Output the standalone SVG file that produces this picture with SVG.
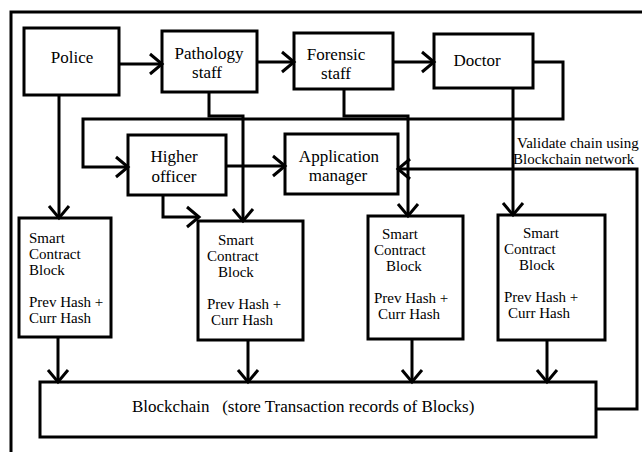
<svg xmlns="http://www.w3.org/2000/svg" width="642" height="452" viewBox="0 0 642 452" font-family="Liberation Serif, Tinos, Noto Serif, DejaVu Serif, Times New Roman, serif">
<defs>
<marker id="ah" markerUnits="userSpaceOnUse" markerWidth="18" markerHeight="26" refX="15" refY="12" orient="auto">
<path d="M3,2 L15,12 L3,22" fill="none" stroke="#000" stroke-width="3"/>
</marker>
<style>
.box{fill:#fff;stroke:#000;stroke-width:3}
.ln{fill:none;stroke:#000;stroke-width:3}
.arr{fill:none;stroke:#000;stroke-width:3;marker-end:url(#ah)}
.t{font-size:17px;fill:#000}
.c{text-anchor:middle}
.s{font-size:15px;fill:#000}
</style>
</defs>
<rect width="642" height="452" fill="#fff"/>
<path class="ln" d="M11,452 V12 H642"/>
<g id="police"><rect class="box" x="24" y="28" width="95" height="67"/><text class="t c" x="72" y="63">Police</text></g>
<g id="pathology"><rect class="box" x="162" y="31" width="95" height="61"/><text class="t c" x="209" y="59">Pathology</text><text class="t c" x="207" y="78">staff</text></g>
<g id="forensic"><rect class="box" x="294" y="33" width="99" height="56"/><text class="t c" x="336" y="60">Forensic</text><text class="t c" x="336" y="79">staff</text></g>
<g id="doctor"><rect class="box" x="434" y="34" width="99" height="54"/><text class="t c" x="477" y="66">Doctor</text></g>
<g id="higher"><rect class="box" x="128" y="135" width="98" height="60"/><text class="t c" x="174" y="162">Higher</text><text class="t c" x="174" y="182">officer</text></g>
<g id="appmgr"><rect class="box" x="285" y="134" width="113" height="60"/><text class="t c" x="339" y="162">Application</text><text class="t c" x="338" y="181">manager</text></g>
<g id="block1"><rect class="box" x="19" y="218" width="92" height="119"/>
<text class="s" x="29" y="243">Smart</text><text class="s" x="29" y="259">Contract</text><text class="s" x="29" y="275">Block</text><text class="s" x="29" y="307">Prev Hash +</text><text class="s" x="29" y="323">Curr Hash</text></g>
<g id="block2"><rect class="box" x="198" y="221" width="105" height="119"/>
<text class="s" x="218" y="245">Smart</text><text class="s" x="207" y="261">Contract</text><text class="s" x="218" y="277">Block</text><text class="s" x="207" y="309">Prev Hash +</text><text class="s" x="211" y="325">Curr Hash</text></g>
<g id="block3"><rect class="box" x="368" y="216" width="95" height="123"/>
<text class="s" x="382" y="239">Smart</text><text class="s" x="374" y="255">Contract</text><text class="s" x="386" y="271">Block</text><text class="s" x="374" y="303">Prev Hash +</text><text class="s" x="378" y="319">Curr Hash</text></g>
<g id="block4"><rect class="box" x="498" y="215" width="107" height="125"/>
<text class="s" x="523" y="238">Smart</text><text class="s" x="504" y="254">Contract</text><text class="s" x="519" y="270">Block</text><text class="s" x="504" y="302">Prev Hash +</text><text class="s" x="508" y="318">Curr Hash</text></g>
<g id="blockchain"><rect class="box" x="40" y="382" width="556" height="55"/><text class="t" x="132" y="412" xml:space="preserve">Blockchain   (store Transaction records of Blocks)</text></g>
<g id="connectors">
<path class="arr" d="M119,64 H162"/>
<path class="arr" d="M257,62 H294"/>
<path class="arr" d="M393,62 H434"/>
<path class="arr" d="M533,62 H563 V119 H83 V167 H128"/>
<path class="arr" d="M226,166 H285"/>
<path class="arr" d="M209,92 V116 H243 V221"/>
<path class="arr" d="M344,89 V116 H408 V216"/>
<path class="arr" d="M513,88 V215"/>
<path class="arr" d="M59,95 V218"/>
<path class="arr" d="M163,195 V217 H199"/>
<path class="arr" d="M596,409 H637 V169 H398"/>
<path class="arr" d="M58,337 V382"/>
<path class="arr" d="M248,340 V382"/>
<path class="arr" d="M412,339 V382"/>
<path class="arr" d="M547,340 V382"/>
<text class="s" x="517" y="148">Validate chain using</text>
<text class="s" x="513" y="164">Blockchain network</text>
</g>
</svg>
